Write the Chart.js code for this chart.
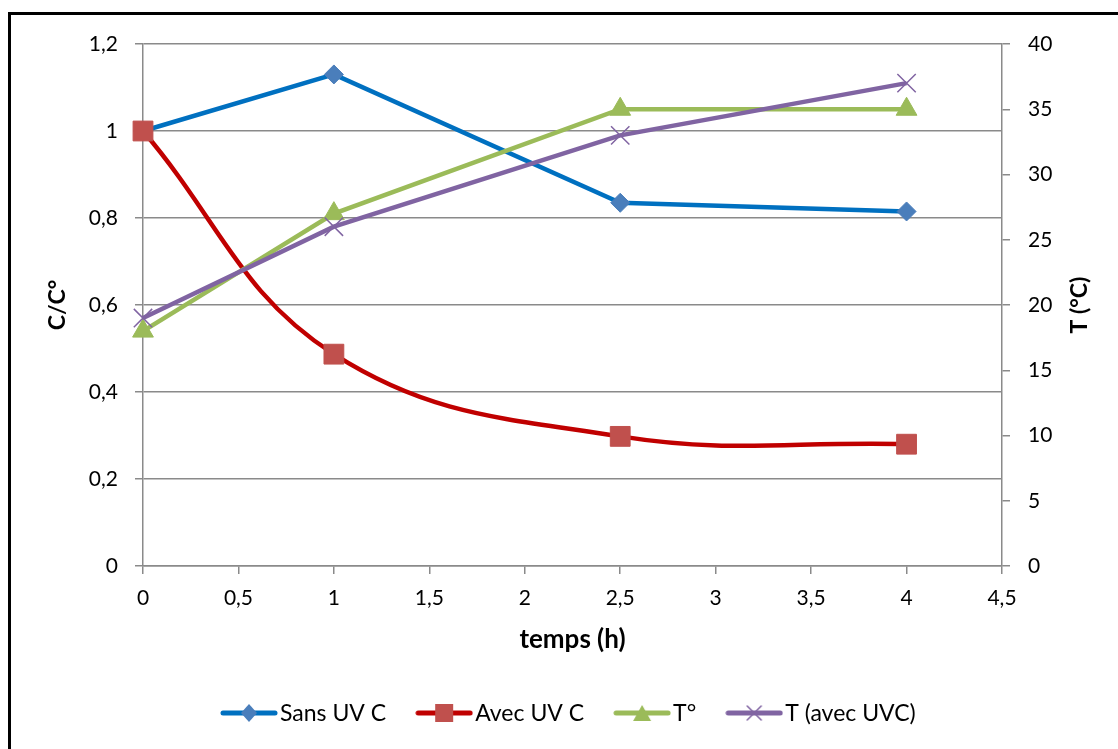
<!DOCTYPE html>
<html>
<head>
<meta charset="utf-8">
<script src="https://cdn.jsdelivr.net/npm/chart.js@4"></script>
<style>
html, body { margin: 0; padding: 0; background: #fff; }
</style>
</head>
<body>
<canvas id="chart" width="1118" height="749"></canvas>
<script>
// data
var times = [0, 1, 2.5, 4]
var sansUVC = [1, 1.13, 0.835, 0.815]
var avecUVC = [1, 0.487, 0.298, 0.28]
var tempSans = [18, 27, 35, 35]
var tempAvec = [19, 26, 33, 37]
var seriesNames = ['Sans UV C', 'Avec UV C', 'T°', 'T (avec UVC)']
var xTicks = [0, 0.5, 1, 1.5, 2, 2.5, 3, 3.5, 4, 4.5]
var cTicks = [0, 0.2, 0.4, 0.6, 0.8, 1, 1.2]
var tTicks = [0, 5, 10, 15, 20, 25, 30, 35, 40]

var FONT = 'Lato, "Open Sans", sans-serif'
var LEGEND_FONT = '23px Lato, sans-serif'
var GRAY = '#8a8a8a'

function pts(ys) {
  return times.map(function (t, i) { return { x: t, y: ys[i] } })
}
function fmt(v) {
  return String(v).replace('.', ',')
}
function setTicks(list) {
  return function (scale) {
    scale.ticks = list.map(function (v) { return { value: v } })
  }
}

// small canvas icons for legend: line with marker in the middle
function legendIcon(lineColor, fill, shape) {
  var c = document.createElement('canvas')
  c.width = 58
  c.height = 26
  var g = c.getContext('2d')
  g.strokeStyle = lineColor
  g.lineWidth = 5
  g.lineCap = 'round'
  g.beginPath()
  g.moveTo(3, 13)
  g.lineTo(55, 13)
  g.stroke()
  g.fillStyle = fill
  g.strokeStyle = fill
  g.beginPath()
  if (shape === 'diamond') {
    g.moveTo(29, 4); g.lineTo(37, 13); g.lineTo(29, 22); g.lineTo(21, 13); g.closePath(); g.fill()
  } else if (shape === 'square') {
    g.rect(20, 4, 18, 18); g.fill()
  } else if (shape === 'triangle') {
    g.moveTo(29, 5); g.lineTo(38, 21); g.lineTo(20, 21); g.closePath(); g.fill()
  } else {
    g.lineWidth = 1.5
    g.moveTo(22, 6); g.lineTo(36, 20); g.moveTo(36, 6); g.lineTo(22, 20); g.stroke()
  }
  return c
}

var icons = [
  legendIcon('#0070C0', '#4A7EBB', 'diamond'),
  legendIcon('#C00000', '#C0504D', 'square'),
  legendIcon('#9BBB59', '#9BBB59', 'triangle'),
  legendIcon('#8064A2', '#8064A2', 'cross')
]

var framePlugin = {
  id: 'frame',
  beforeDraw: function (chart) {
    var c = chart.ctx
    c.save()
    c.fillStyle = '#fff'
    c.fillRect(0, 0, chart.width, chart.height)
    c.strokeStyle = '#000'
    c.lineWidth = 3
    c.beginPath()
    c.moveTo(9.5, chart.height)
    c.lineTo(9.5, 13.5)
    c.lineTo(chart.width, 13.5)
    c.stroke()
    c.restore()
  },
  afterDraw: function (chart) {
    var c = chart.ctx
    var area = chart.chartArea
    // right axis title reads bottom to top, like the left one
    c.save()
    c.translate(1080, (area.top + area.bottom) / 2)
    c.rotate(-Math.PI / 2)
    c.font = 'bold 23px ' + FONT
    c.fillStyle = '#000'
    c.textAlign = 'center'
    c.textBaseline = 'middle'
    c.fillText('T (°C)', 0, 0)
    c.restore()

    // legend: line + marker, then name
    c.save()
    c.font = LEGEND_FONT
    c.fillStyle = '#000'
    c.textAlign = 'left'
    c.textBaseline = 'middle'
    var x = 220
    var y = 713
    chart.data.datasets.forEach(function (ds, i) {
      c.drawImage(icons[i], x, y - 13)
      c.fillText(ds.label, x + 60, y + 1)
      x += 60 + c.measureText(ds.label).width + 29
    })
    c.restore()
  }
}

var tickFont = { family: FONT, size: 21 }
var titleFont = { family: FONT, size: 23, weight: 'bold' }

var chart = new Chart(document.getElementById('chart'), {
  type: 'line',
  data: {
    datasets: [
      {
        label: seriesNames[0],
        data: pts(sansUVC),
        yAxisID: 'y',
        borderColor: '#0070C0',
        borderWidth: 4.5,
        pointStyle: 'rectRot',
        pointRadius: 9.5,
        pointBackgroundColor: '#4A7EBB',
        pointBorderColor: '#4A7EBB',
        pointBorderWidth: 1,
        tension: 0,
        order: 4,
      },
      {
        label: seriesNames[1],
        data: pts(avecUVC),
        yAxisID: 'y',
        borderColor: '#C00000',
        borderWidth: 4.5,
        pointStyle: 'rect',
        pointRadius: 14,
        pointBackgroundColor: '#C0504D',
        pointBorderColor: '#C0504D',
        pointBorderWidth: 1,
        tension: 0.4,
        order: 3,
      },
      {
        label: seriesNames[2],
        data: pts(tempSans),
        yAxisID: 'y2',
        borderColor: '#9BBB59',
        borderWidth: 4.5,
        pointStyle: 'triangle',
        pointRadius: 12,
        pointBackgroundColor: '#9BBB59',
        pointBorderColor: '#9BBB59',
        pointBorderWidth: 1,
        tension: 0,
        order: 2,
      },
      {
        label: seriesNames[3],
        data: pts(tempAvec),
        yAxisID: 'y2',
        borderColor: '#8064A2',
        borderWidth: 4.5,
        pointStyle: 'crossRot',
        pointRadius: 13,
        pointBorderColor: '#8064A2',
        pointBorderWidth: 1.5,
        tension: 0,
        order: 1,
      },
    ],
  },
  options: {
    responsive: false,
    animation: false,
    clip: false,
    layout: { padding: { left: 20, top: 44, right: 10, bottom: 75 } },
    plugins: {
      tooltip: { enabled: false },
      legend: { display: false },
    },
    scales: {
      x: {
        type: 'linear',
        position: 'bottom',
        min: 0,
        max: 4.5,
        afterBuildTicks: setTicks(xTicks),
        afterFit: function (s) { s.height = 108 },
        ticks: { callback: fmt, font: tickFont, color: '#000', padding: 12, maxRotation: 0, autoSkip: false },
        grid: { drawOnChartArea: false, color: GRAY, lineWidth: 1.5, tickLength: 8 },
        border: { color: GRAY, width: 1.5 },
        title: { display: true, text: 'temps (h)', font: { family: FONT, size: 26, weight: 'bold' }, color: '#000', padding: { top: 0, bottom: 19 } },
      },
      y: {
        position: 'left',
        min: 0,
        max: 1.2,
        afterBuildTicks: setTicks(cTicks),
        afterFit: function (s) { s.width = 123 },
        ticks: { callback: fmt, font: tickFont, color: '#000', padding: 17 },
        grid: { color: GRAY, lineWidth: 1.5, tickLength: 8 },
        border: { color: GRAY, width: 1.5 },
        title: { display: true, text: 'C/C°', font: titleFont, color: '#000', padding: { top: 24, bottom: 0 } },
      },
      y2: {
        position: 'right',
        min: 0,
        max: 40,
        afterBuildTicks: setTicks(tTicks),
        afterFit: function (s) { s.width = 106 },
        ticks: { callback: fmt, font: tickFont, color: '#000', padding: 18 },
        grid: { drawOnChartArea: false, color: GRAY, lineWidth: 1.5, tickLength: 8 },
        border: { color: GRAY, width: 1.5 },
      },
    },
  },
  plugins: [framePlugin],
})
</script>
</body>
</html>
